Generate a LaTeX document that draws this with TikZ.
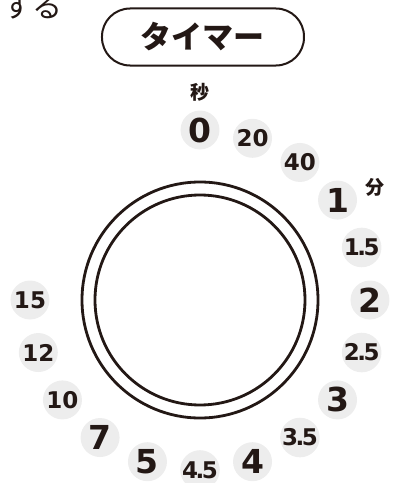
\documentclass[tikz,border=0pt]{standalone}
\usepackage{fontspec}
\setmainfont{DejaVu Sans}
\newfontfamily\jpfont{Noto Sans CJK JP}
\usepackage{tikz}
\usetikzlibrary{positioning}

\definecolor{ink}{HTML}{231815}
\definecolor{discgray}{HTML}{EDEDED}
\newcommand{\dotk}{\kern-2.5pt.\kern-2.5pt}

\begin{document}
\begin{tikzpicture}[
  x=1pt, y=1pt, color=ink,
  num/.style={circle, fill=discgray, minimum size=39pt, inner sep=0pt, text=ink},
  big/.style={num, font=\bfseries\fontsize{33}{33}\selectfont},
  small/.style={num, font=\bfseries\fontsize{23}{23}\selectfont},
  unit/.style={font=\jpfont\bfseries\fontsize{19}{19}\selectfont},
  ring/.style={line width=2.8pt},
]
\useasboundingbox (-200,-183) rectangle (192,300);

% title
\node[draw, line width=2pt, rounded corners=28pt, minimum width=202pt,
      minimum height=57pt, font=\jpfont\bfseries\fontsize{31}{31}\selectfont]
      (title) at (3,263) {タイマー};
\node[font=\jpfont\fontsize{30}{30}\selectfont] (verb) at (-167,294) {する};

% dial
\node[circle, draw, ring, minimum size=236pt] (outer) at (0,0) {};
\node[circle, draw, ring, minimum size=210pt] (inner) at (0,0) {};

% scale
\foreach \lab/\sty [count=\k] in {0/big, 20/small, 40/small, 1/big,
    1\dotk5/small, 2/big, 2\dotk5/small, 3/big, 3\dotk5/small, 4/big,
    4\dotk5/small, 5/big, 7/big, 10/small, 12/small, 15/small}
  \node[\sty] (t\k) at ({108-18*\k}:170) {\lab};

\node[unit] (sec) at (0,208) {秒};
\node[unit] (min) at (175,113) {分};
\end{tikzpicture}
\end{document}
